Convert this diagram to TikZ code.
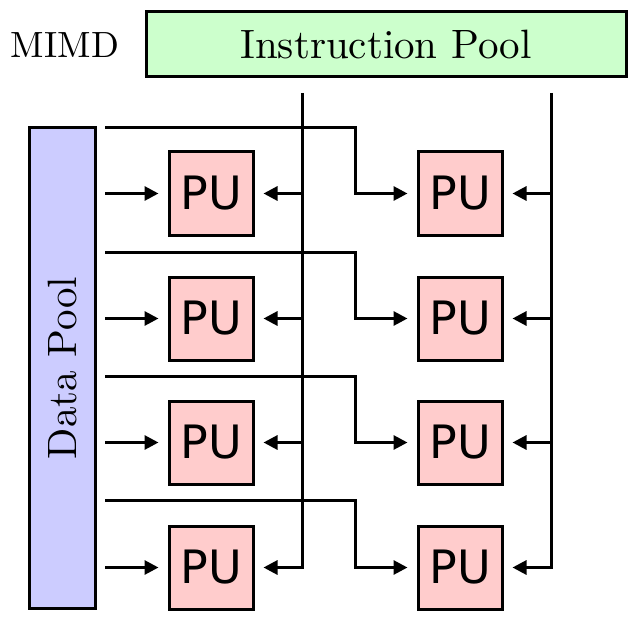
\documentclass[tikz,border=0pt]{standalone}
\usepackage{fontspec}
\newfontfamily\pufont{DejaVu Sans}
\newfontfamily\tenrm{lmroman10-regular}[Extension=.otf]
\usetikzlibrary{arrows.meta}
\definecolor{ipgreen}{HTML}{CCFFCC}
\definecolor{dpblue}{HTML}{CCCCFF}
\definecolor{pupink}{HTML}{FFCCCC}
\begin{document}
\begin{tikzpicture}[x=1pt,y=-1pt,
  every path/.style={line width=3pt},
  box/.style={draw=black,line width=3pt,inner sep=0pt},
  pubox/.style={box,fill=pupink,minimum width=84pt,minimum height=83pt,font=\pufont\fontsize{46}{50}\selectfont},
  arr/.style={-{Triangle[length=14pt,width=14pt]},line width=3pt},
  serifbig/.style={font=\tenrm\fontsize{41}{47}\selectfont}]
\useasboundingbox (0,0) rectangle (642,644);
\node[box,fill=ipgreen,minimum width=480pt,minimum height=65pt,serifbig] (ip) at (386,44.5) {Instruction Pool};
\node[font=\tenrm\fontsize{36.5}{42}\selectfont,anchor=center] (mimd) at (65,45) {MIMD};
\node[box,fill=dpblue,minimum width=66pt,minimum height=480pt] (dp) at (62,368) {};
\node[serifbig,rotate=90] (dptext) at (dp.center) {Data Pool};
% PUs
\foreach \r/\y in {1/193.5,2/318.5,3/442.5,4/567.5}{
  \node[pubox] (pu\r1) at (211,\y) {PU};
  \node[pubox] (pu\r2) at (460,\y) {PU};
}
% instruction lines
\coordinate (v1) at (302,93);
\coordinate (v2) at (551,93);
\draw[arr] (v1) |- ([xshift=9pt]pu41.east);
\draw[arr] (v2) |- ([xshift=9pt]pu42.east);
\foreach \r in {1,2,3}{
  \draw[arr] (v1 |- pu\r1.east) -- ([xshift=9pt]pu\r1.east);
  \draw[arr] (v2 |- pu\r2.east) -- ([xshift=9pt]pu\r2.east);
}
% data lines
\foreach \r/\y in {1/128,2/252,3/376,4/500}{
  \coordinate (ds\r) at (105,\y);
  \coordinate (dj\r) at (355,\y);
  \draw[arr] (ds\r) -- (dj\r) |- ([xshift=-9pt]pu\r2.west);
  \draw[arr] (ds\r |- pu\r1.west) -- ([xshift=-9pt]pu\r1.west);
}
\end{tikzpicture}
\end{document}
